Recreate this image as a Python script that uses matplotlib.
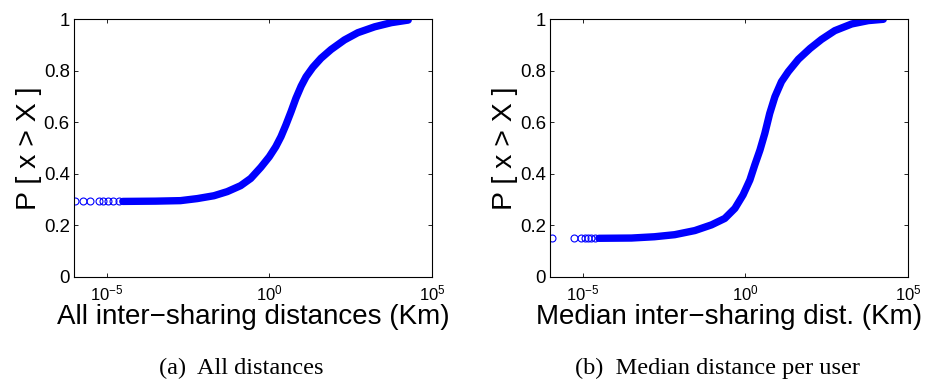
import numpy as np
import matplotlib
matplotlib.use('Agg')
import matplotlib.pyplot as plt

plt.rcParams.update({
    "font.family": "Liberation Sans",
    "mathtext.fontset": "custom",
    "mathtext.rm": "Liberation Sans",
    "mathtext.it": "Liberation Sans:italic",
    "axes.linewidth": 0.8,
})

# ---- data (log10 of distance in km, P[x > X]) ----
# (a) all inter-sharing distances
all_sparse_logx = [-5.97, -5.71, -5.51, -5.22, -5.10, -4.94, -4.79, -4.63]
all_sparse_p = [0.293, 0.293, 0.293, 0.293, 0.293, 0.293, 0.293, 0.293]
all_logx = [-4.50, -3.50, -2.73, -2.21, -1.70, -1.29, -0.88, -0.57, -0.26,
            0.00, 0.20, 0.36, 0.51, 0.67, 0.82, 0.98, 1.13, 1.34, 1.59,
            1.90, 2.31, 2.72, 3.24, 3.75, 4.27]
all_p = [0.293, 0.294, 0.296, 0.304, 0.315, 0.331, 0.354, 0.382, 0.425,
         0.466, 0.505, 0.544, 0.589, 0.641, 0.693, 0.740, 0.776, 0.813, 0.848,
         0.882, 0.919, 0.947, 0.970, 0.986, 0.996]

# (b) median distance per user
med_sparse_logx = [-5.95, -5.27, -5.06, -4.94, -4.84, -4.73, -4.63]
med_sparse_p = [0.150, 0.150, 0.150, 0.150, 0.150, 0.150, 0.150]
med_logx = [-4.50, -3.50, -2.79, -2.17, -1.55, -1.04, -0.63, -0.32, -0.07,
            0.14, 0.29, 0.45, 0.60, 0.75, 0.91, 1.11, 1.32, 1.63, 1.99,
            2.34, 2.75, 3.27, 3.78, 4.24]
med_p = [0.150, 0.151, 0.156, 0.164, 0.180, 0.202, 0.227, 0.266, 0.318,
         0.376, 0.434, 0.492, 0.557, 0.634, 0.699, 0.757, 0.796, 0.844, 0.886,
         0.921, 0.955, 0.981, 0.994, 0.999]

xticks = [1e-5, 1e0, 1e5]
xticklabels = [r'$10^{-5}$', r'$10^{0}$', r'$10^{5}$']
yticks = [0, 0.2, 0.4, 0.6, 0.8, 1.0]
yticklabels = ['0', '0.2', '0.4', '0.6', '0.8', '1']

panels = [
    (all_sparse_logx, all_sparse_p, all_logx, all_p,
     u'All inter\u2212sharing distances (Km)', '(a)  All distances'),
    (med_sparse_logx, med_sparse_p, med_logx, med_p,
     u'Median inter\u2212sharing dist. (Km)', '(b)  Median distance per user'),
]

fig = plt.figure(figsize=(9.26, 3.81), dpi=100)
positions = [[0.0799, 0.273, 0.3866, 0.677], [0.594, 0.273, 0.3866, 0.677]]
caption_x = [0.260, 0.775]

for pos, cx, (sx, sp, lx, lp, xlabel, caption) in zip(positions, caption_x, panels):
    ax = fig.add_axes(pos)
    blue = (0, 0, 1)
    # dense part of the curve: overlapping markers look like a thick band
    ax.plot(10 ** np.array(lx), lp, color=blue, linewidth=5.3,
            solid_capstyle='round', solid_joinstyle='round')
    ax.plot(10 ** np.array(sx), sp, linestyle='none', marker='o',
            markersize=5.0, markerfacecolor='none', markeredgecolor=blue,
            markeredgewidth=0.8)

    ax.set_xscale('log')
    ax.set_xlim(1e-6, 1e5)
    ax.set_ylim(0, 1)
    ax.set_xticks(xticks)
    ax.set_xticklabels(xticklabels)
    ax.minorticks_off()
    ax.set_yticks(yticks)
    ax.set_yticklabels(yticklabels)
    ax.tick_params(axis='both', which='both', direction='in', top=True, right=True,
                   length=3, width=0.6)
    ax.tick_params(axis='x', labelsize=12, pad=5)
    ax.tick_params(axis='y', labelsize=13.4, pad=3)

    ax.set_xlabel(xlabel, fontsize=20, labelpad=0)
    ax.set_ylabel('P [ x > X ]', fontsize=20.5, labelpad=1)

    fig.text(cx, 0.018, caption, ha='center', va='baseline',
             family='Liberation Serif', fontsize=17.5)

fig.savefig('out.png', dpi=100)
